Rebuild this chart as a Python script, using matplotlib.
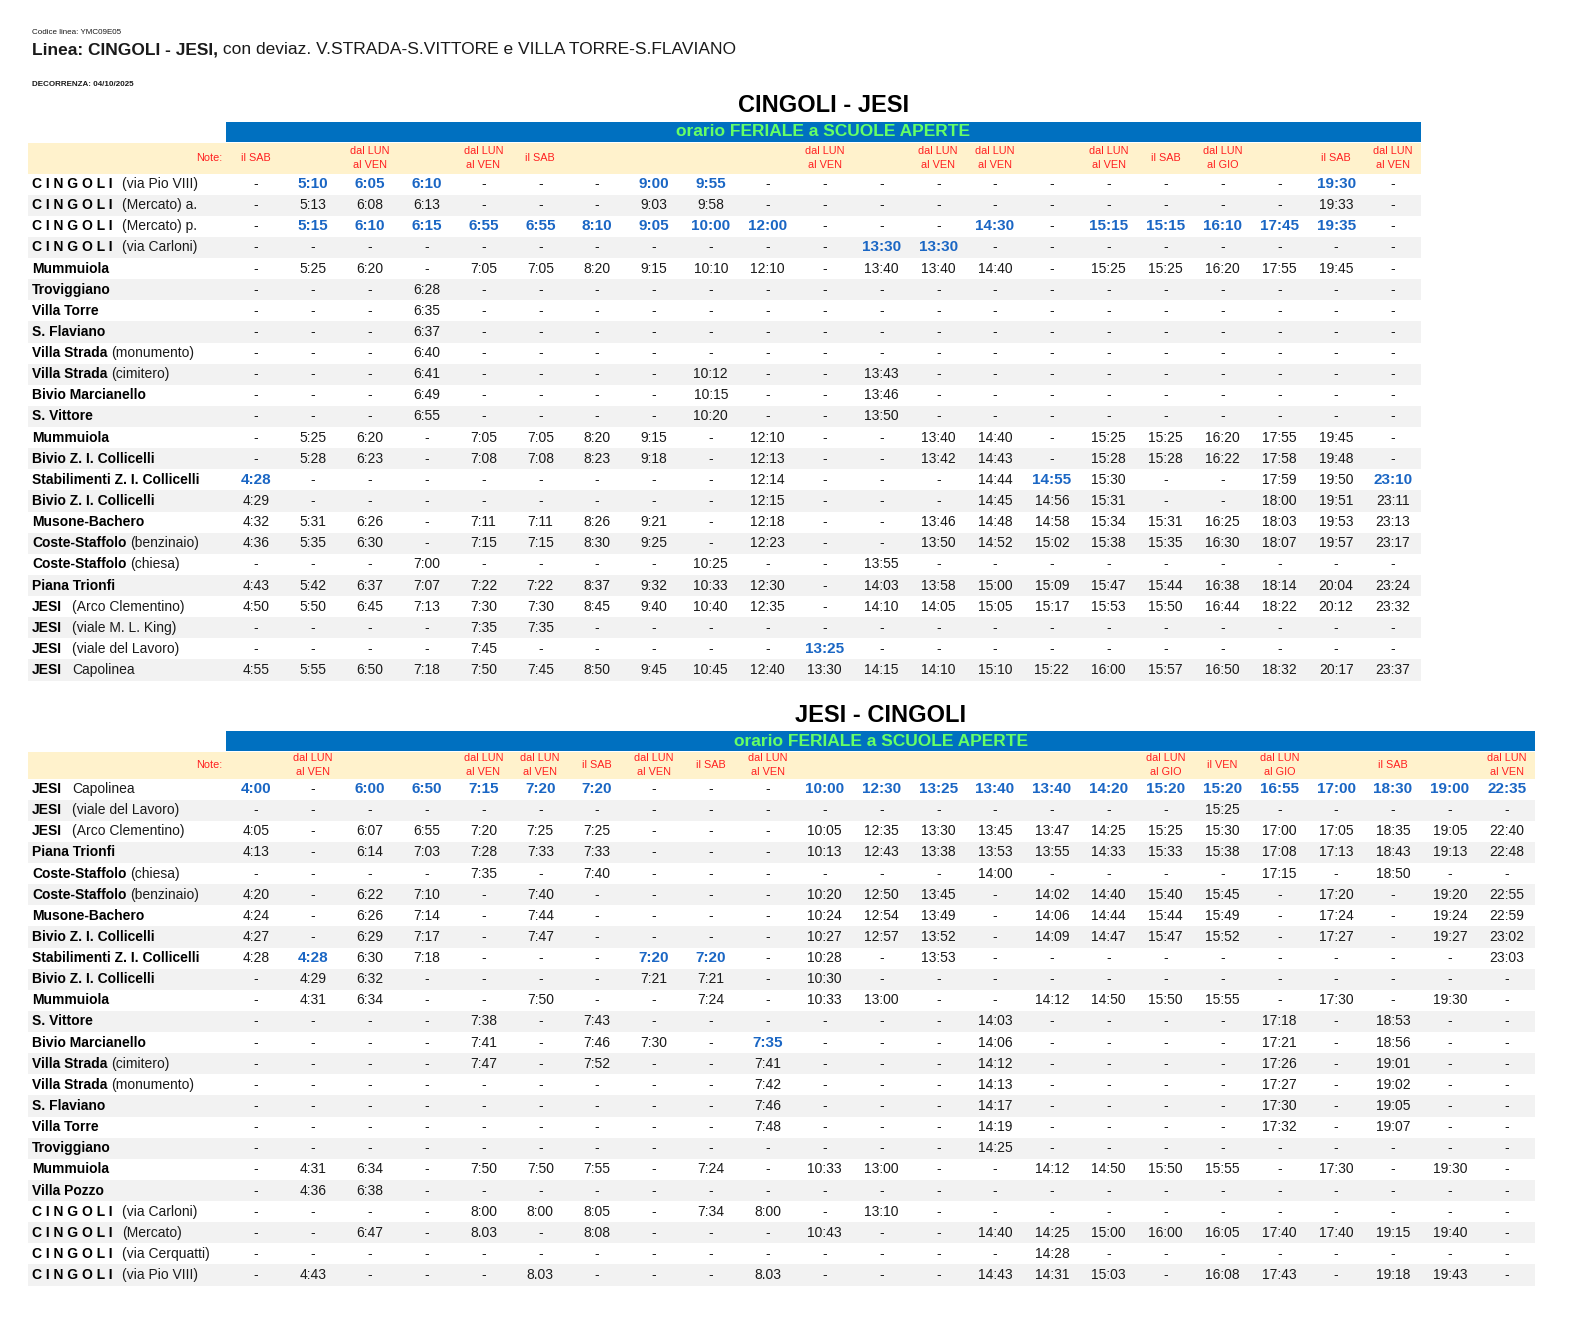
import matplotlib
matplotlib.use("Agg")
import matplotlib.pyplot as plt
from matplotlib.patches import Rectangle

plt.rcParams['font.family'] = ['Liberation Sans', 'DejaVu Sans']

# ---------------- DATA ----------------
CODE_LINE = "Codice linea: YMC09E05"
LINE_BOLD = "Linea: CINGOLI - JESI,"
LINE_REST = " con deviaz. V.STRADA-S.VITTORE e VILLA TORRE-S.FLAVIANO"
VALIDITY = "DECORRENZA: 04/10/2025"
BANNER_TEXT = "orario FERIALE a SCUOLE APERTE"

T1_TITLE = "CINGOLI - JESI"
T1_NOTES = ["il SAB", "", "dal LUN\nal VEN", "", "dal LUN\nal VEN", "il SAB", "", "", "", "",
            "dal LUN\nal VEN", "", "dal LUN\nal VEN", "dal LUN\nal VEN", "", "dal LUN\nal VEN",
            "il SAB", "dal LUN\nal GIO", "", "il SAB", "dal LUN\nal VEN"]
T1_NAMES = ["C I N G O L I", "C I N G O L I", "C I N G O L I", "C I N G O L I", "Mummuiola",
            "Troviggiano", "Villa Torre", "S. Flaviano", "Villa Strada", "Villa Strada",
            "Bivio Marcianello", "S. Vittore", "Mummuiola", "Bivio Z. I. Collicelli",
            "Stabilimenti Z. I. Collicelli", "Bivio Z. I. Collicelli", "Musone-Bachero",
            "Coste-Staffolo", "Coste-Staffolo", "Piana Trionfi", "JESI", "JESI", "JESI", "JESI"]
T1_SUFFIX = ["(via Pio VIII)", "(Mercato) a.", "(Mercato) p.", "(via Carloni)", "",
             "", "", "", "(monumento)", "(cimitero)",
             "", "", "", "",
             "", "", "",
             "(benzinaio)", "(chiesa)", "", "(Arco Clementino)", "(viale M. L. King)",
             "(viale del Lavoro)", "Capolinea"]
T1_TIMES = [
    "- 5:10 6:05 6:10 - - - 9:00 9:55 - - - - - - - - - - 19:30 -",
    "- 5:13 6:08 6:13 - - - 9:03 9:58 - - - - - - - - - - 19:33 -",
    "- 5:15 6:10 6:15 6:55 6:55 8:10 9:05 10:00 12:00 - - - 14:30 - 15:15 15:15 16:10 17:45 19:35 -",
    "- - - - - - - - - - - 13:30 13:30 - - - - - - - -",
    "- 5:25 6:20 - 7:05 7:05 8:20 9:15 10:10 12:10 - 13:40 13:40 14:40 - 15:25 15:25 16:20 17:55 19:45 -",
    "- - - 6:28 - - - - - - - - - - - - - - - - -",
    "- - - 6:35 - - - - - - - - - - - - - - - - -",
    "- - - 6:37 - - - - - - - - - - - - - - - - -",
    "- - - 6:40 - - - - - - - - - - - - - - - - -",
    "- - - 6:41 - - - - 10:12 - - 13:43 - - - - - - - - -",
    "- - - 6:49 - - - - 10:15 - - 13:46 - - - - - - - - -",
    "- - - 6:55 - - - - 10:20 - - 13:50 - - - - - - - - -",
    "- 5:25 6:20 - 7:05 7:05 8:20 9:15 - 12:10 - - 13:40 14:40 - 15:25 15:25 16:20 17:55 19:45 -",
    "- 5:28 6:23 - 7:08 7:08 8:23 9:18 - 12:13 - - 13:42 14:43 - 15:28 15:28 16:22 17:58 19:48 -",
    "4:28 - - - - - - - - 12:14 - - - 14:44 14:55 15:30 - - 17:59 19:50 23:10",
    "4:29 - - - - - - - - 12:15 - - - 14:45 14:56 15:31 - - 18:00 19:51 23:11",
    "4:32 5:31 6:26 - 7:11 7:11 8:26 9:21 - 12:18 - - 13:46 14:48 14:58 15:34 15:31 16:25 18:03 19:53 23:13",
    "4:36 5:35 6:30 - 7:15 7:15 8:30 9:25 - 12:23 - - 13:50 14:52 15:02 15:38 15:35 16:30 18:07 19:57 23:17",
    "- - - 7:00 - - - - 10:25 - - 13:55 - - - - - - - - -",
    "4:43 5:42 6:37 7:07 7:22 7:22 8:37 9:32 10:33 12:30 - 14:03 13:58 15:00 15:09 15:47 15:44 16:38 18:14 20:04 23:24",
    "4:50 5:50 6:45 7:13 7:30 7:30 8:45 9:40 10:40 12:35 - 14:10 14:05 15:05 15:17 15:53 15:50 16:44 18:22 20:12 23:32",
    "- - - - 7:35 7:35 - - - - - - - - - - - - - - -",
    "- - - - 7:45 - - - - - 13:25 - - - - - - - - - -",
    "4:55 5:55 6:50 7:18 7:50 7:45 8:50 9:45 10:45 12:40 13:30 14:15 14:10 15:10 15:22 16:00 15:57 16:50 18:32 20:17 23:37",
]
T1_DEPARTURE_ROWS = [2]

T2_TITLE = "JESI - CINGOLI"
T2_NOTES = ["", "dal LUN\nal VEN", "", "", "dal LUN\nal VEN", "dal LUN\nal VEN", "il SAB",
            "dal LUN\nal VEN", "il SAB", "dal LUN\nal VEN", "", "", "", "", "", "",
            "dal LUN\nal GIO", "il VEN", "dal LUN\nal GIO", "", "il SAB", "", "dal LUN\nal VEN"]
T2_NAMES = ["JESI", "JESI", "JESI", "Piana Trionfi", "Coste-Staffolo", "Coste-Staffolo",
            "Musone-Bachero", "Bivio Z. I. Collicelli", "Stabilimenti Z. I. Collicelli",
            "Bivio Z. I. Collicelli", "Mummuiola", "S. Vittore", "Bivio Marcianello",
            "Villa Strada", "Villa Strada", "S. Flaviano", "Villa Torre", "Troviggiano",
            "Mummuiola", "Villa Pozzo", "C I N G O L I", "C I N G O L I", "C I N G O L I",
            "C I N G O L I"]
T2_SUFFIX = ["Capolinea", "(viale del Lavoro)", "(Arco Clementino)", "", "(chiesa)", "(benzinaio)",
             "", "", "",
             "", "", "", "",
             "(cimitero)", "(monumento)", "", "", "",
             "", "", "(via Carloni)", "(Mercato)", "(via Cerquatti)",
             "(via Pio VIII)"]
T2_TIMES = [
    "4:00 - 6:00 6:50 7:15 7:20 7:20 - - - 10:00 12:30 13:25 13:40 13:40 14:20 15:20 15:20 16:55 17:00 18:30 19:00 22:35",
    "- - - - - - - - - - - - - - - - - 15:25 - - - - -",
    "4:05 - 6:07 6:55 7:20 7:25 7:25 - - - 10:05 12:35 13:30 13:45 13:47 14:25 15:25 15:30 17:00 17:05 18:35 19:05 22:40",
    "4:13 - 6:14 7:03 7:28 7:33 7:33 - - - 10:13 12:43 13:38 13:53 13:55 14:33 15:33 15:38 17:08 17:13 18:43 19:13 22:48",
    "- - - - 7:35 - 7:40 - - - - - - 14:00 - - - - 17:15 - 18:50 - -",
    "4:20 - 6:22 7:10 - 7:40 - - - - 10:20 12:50 13:45 - 14:02 14:40 15:40 15:45 - 17:20 - 19:20 22:55",
    "4:24 - 6:26 7:14 - 7:44 - - - - 10:24 12:54 13:49 - 14:06 14:44 15:44 15:49 - 17:24 - 19:24 22:59",
    "4:27 - 6:29 7:17 - 7:47 - - - - 10:27 12:57 13:52 - 14:09 14:47 15:47 15:52 - 17:27 - 19:27 23:02",
    "4:28 4:28 6:30 7:18 - - - 7:20 7:20 - 10:28 - 13:53 - - - - - - - - - 23:03",
    "- 4:29 6:32 - - - - 7:21 7:21 - 10:30 - - - - - - - - - - - -",
    "- 4:31 6:34 - - 7:50 - - 7:24 - 10:33 13:00 - - 14:12 14:50 15:50 15:55 - 17:30 - 19:30 -",
    "- - - - 7:38 - 7:43 - - - - - - 14:03 - - - - 17:18 - 18:53 - -",
    "- - - - 7:41 - 7:46 7:30 - 7:35 - - - 14:06 - - - - 17:21 - 18:56 - -",
    "- - - - 7:47 - 7:52 - - 7:41 - - - 14:12 - - - - 17:26 - 19:01 - -",
    "- - - - - - - - - 7:42 - - - 14:13 - - - - 17:27 - 19:02 - -",
    "- - - - - - - - - 7:46 - - - 14:17 - - - - 17:30 - 19:05 - -",
    "- - - - - - - - - 7:48 - - - 14:19 - - - - 17:32 - 19:07 - -",
    "- - - - - - - - - - - - - 14:25 - - - - - - - - -",
    "- 4:31 6:34 - 7:50 7:50 7:55 - 7:24 - 10:33 13:00 - - 14:12 14:50 15:50 15:55 - 17:30 - 19:30 -",
    "- 4:36 6:38 - - - - - - - - - - - - - - - - - - - -",
    "- - - - 8:00 8:00 8:05 - 7:34 8:00 - 13:10 - - - - - - - - - - -",
    "- - 6:47 - 8.03 - 8:08 - - - 10:43 - - 14:40 14:25 15:00 16:00 16:05 17:40 17:40 19:15 19:40 -",
    "- - - - - - - - - - - - - - 14:28 - - - - - - - -",
    "- 4:43 - - - 8.03 - - - 8.03 - - - 14:43 14:31 15:03 - 16:08 17:43 - 19:18 19:43 -",
]
T2_DEPARTURE_ROWS = [0]

# ---------------- STYLE ----------------
BLUE_BANNER = "#0070C0"
GREEN = "#66FF66"
CREAM = "#FFF2CC"
STRIPE = "#F2F2F2"
RED = "#FF2020"
TIME_BLUE = "#1A66C4"
DARK = "#1A1A1A"

W, H = 1592, 1335
fig = plt.figure(figsize=(W / 100, H / 100), dpi=100)
ax = fig.add_axes([0, 0, 1, 1])
ax.set_xlim(0, W)
ax.set_ylim(H, 0)
ax.axis('off')
renderer = fig.canvas.get_renderer()

# header texts
ax.text(32, 33, CODE_LINE, fontsize=5.8, color=DARK, va='center', ha='left')
t = ax.text(32, 50, LINE_BOLD, fontsize=12.5, fontweight='bold', color=DARK, va='center', ha='left')
bb = t.get_window_extent(renderer)
ax.text(bb.x1, 50, LINE_REST, fontsize=12.5, color=DARK, va='center', ha='left')
ax.text(32, 85, VALIDITY, fontsize=5.8, fontweight='bold', color=DARK, va='center', ha='left')

X0 = 256.0
DX = 56.85
LEFT = 28
ROWH = 21.13


def draw_table(title, title_y, banner_y, right, header_y0, header_y1, names, suffixes, notes,
               times, depart_rows):
    grid = [r.split() for r in times]
    ncol = len(notes)
    cx = [X0 + j * DX for j in range(ncol)]
    mid = (226 + right) / 2
    ax.text(mid, title_y, title, fontsize=17, fontweight='bold', color='black', ha='center', va='center')
    ax.add_patch(Rectangle((226, banner_y), right - 226, 20, facecolor=BLUE_BANNER, edgecolor='none'))
    ax.text(mid, banner_y + 10, BANNER_TEXT, fontsize=12.5, fontweight='bold', color=GREEN,
            ha='center', va='center')
    ax.add_patch(Rectangle((LEFT, header_y0), right - LEFT, header_y1 - header_y0,
                           facecolor=CREAM, edgecolor='none'))
    hy = (header_y0 + header_y1) / 2
    ax.text(222, hy, "Note:", fontsize=7.8, color=RED, ha='right', va='center')
    for j, n in enumerate(notes):
        if n:
            ax.text(cx[j], hy, n, fontsize=7.8, color=RED, ha='center', va='center',
                    multialignment='center', linespacing=1.45)
    # first time in each column is highlighted
    first = {}
    for j in range(ncol):
        for i, row in enumerate(grid):
            if row[j] != '-':
                first[j] = i
                break
    for i, row in enumerate(grid):
        y0 = header_y1 + i * ROWH
        yc = y0 + ROWH / 2
        if i % 2 == 1:
            ax.add_patch(Rectangle((LEFT, y0), right - LEFT, ROWH, facecolor=STRIPE, edgecolor='none'))
        nt = ax.text(32, yc, names[i], fontsize=10, fontweight='bold', color='black',
                     ha='left', va='center')
        if suffixes[i]:
            ext = nt.get_window_extent(renderer)
            gap = 10 if names[i] in ("C I N G O L I", "JESI") else 4
            ax.text(ext.x1 + gap, yc, suffixes[i], fontsize=10, color=DARK, ha='left', va='center')
        for j, v in enumerate(row):
            if v == '-':
                ax.text(cx[j], yc, v, fontsize=10, color=DARK, ha='center', va='center')
            elif first.get(j) == i or i in depart_rows:
                ax.text(cx[j], yc, v, fontsize=11, fontweight='bold', color=TIME_BLUE,
                        ha='center', va='center')
            else:
                ax.text(cx[j], yc, v, fontsize=10, color=DARK, ha='center', va='center')


draw_table(T1_TITLE, 106, 122, 1421, 143, 173.5, T1_NAMES, T1_SUFFIX, T1_NOTES, T1_TIMES,
           T1_DEPARTURE_ROWS)
draw_table(T2_TITLE, 715, 731, 1535, 752, 778.5, T2_NAMES, T2_SUFFIX, T2_NOTES, T2_TIMES,
           T2_DEPARTURE_ROWS)

fig.savefig("out.png", dpi=100, facecolor='white')
